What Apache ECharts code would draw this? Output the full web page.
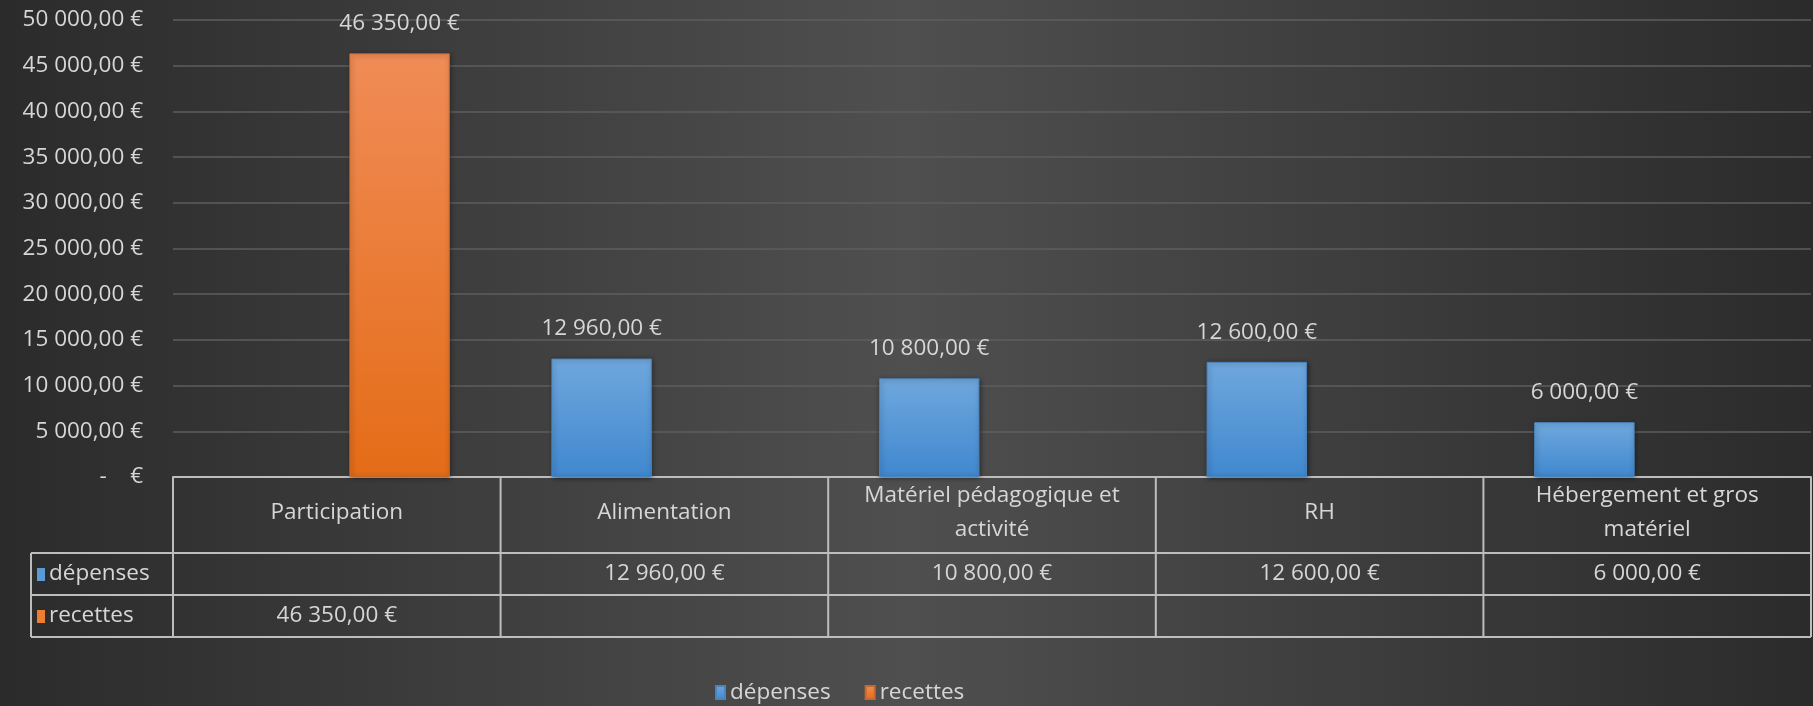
<!DOCTYPE html>
<html>
<head>
<meta charset="utf-8">
<script src="https://cdn.jsdelivr.net/npm/echarts@6/dist/echarts.min.js"></script>
<style>
html, body { margin: 0; padding: 0; background: #333; }
#chart { width: 1813px; height: 706px; }
</style>
</head>
<body>
<div id="chart"></div>
<script>
var categories = ['Participation', 'Alimentation', 'Matériel pédagogique et\nactivité', 'RH', 'Hébergement et gros\nmatériel'];
var depenses = [null, 12960, 10800, 12600, 6000];
var recettes = [46350, null, null, null, null];
var seriesNames = ['dépenses', 'recettes'];
var seriesColors = ['#5b9bd5', '#ed7d31'];

var FONT = '"Open Sans", Lato, sans-serif';
var FS = 22.5;
var TXT = '#d6d6d6';
var LINE = '#bdbdbd';

function euro(v) {
  if (v === null || v === undefined) return '';
  if (v === 0) return '-    €';
  var p = v.toFixed(2).split('.');
  return p[0].replace(/\B(?=(\d{3})+(?!\d))/g, ' ') + ',' + p[1] + ' €';
}

function grad(top, bottom) {
  return new echarts.graphic.LinearGradient(0, 0, 0, 1, [
    { offset: 0, color: top },
    { offset: 1, color: bottom }
  ]);
}

var chartDom = document.getElementById('chart');
var myChart = echarts.init(chartDom);
var option;

var barStyle = {
  shadowBlur: 5,
  shadowColor: 'rgba(0,0,0,0.45)',
  shadowOffsetX: 1,
  shadowOffsetY: 1
};

option = {
  animation: false,
  backgroundColor: new echarts.graphic.LinearGradient(0, 0, 1, 0, [
    { offset: 0, color: '#2b2b2b' },
    { offset: 0.5, color: '#4f4f4f' },
    { offset: 1, color: '#2b2b2b' }
  ]),
  textStyle: { fontFamily: FONT },
  grid: { left: 173, right: 2, top: 20, bottom: 229 },
  legend: {
    data: seriesNames,
    left: 710,
    top: 676,
    icon: 'rect',
    itemWidth: 9,
    itemHeight: 13,
    itemGap: 34,
    textStyle: { color: TXT, fontSize: FS, fontFamily: FONT }
  },
  xAxis: {
    type: 'category',
    data: categories,
    axisLine: { show: true, lineStyle: { color: LINE, width: 2 } },
    axisTick: { show: false },
    axisLabel: { show: false }
  },
  yAxis: {
    type: 'value',
    min: 0,
    max: 50000,
    interval: 5000,
    axisLine: { show: false },
    axisTick: { show: false },
    splitLine: { lineStyle: { color: '#5e5e5e', width: 1.5 } },
    axisLabel: {
      color: TXT,
      fontSize: FS,
      fontFamily: FONT,
      margin: 30,
      formatter: function (v) { return euro(v); }
    }
  },
  series: [
    {
      name: seriesNames[0],
      type: 'bar',
      data: depenses,
      barGap: '25%',
      barCategoryGap: '31%',
      itemStyle: Object.assign({ color: grad('#6fa7dd', '#4088cf'), borderColor: '#4a84bd', borderWidth: 1 }, barStyle),
      label: {
        show: true,
        position: 'top',
        distance: 18,
        color: TXT,
        fontSize: FS,
        fontFamily: FONT,
        formatter: function (p) { return euro(p.value); }
      }
    },
    {
      name: seriesNames[1],
      type: 'bar',
      data: recettes,
      barGap: '25%',
      barCategoryGap: '31%',
      itemStyle: Object.assign({ color: grad('#f08c57', '#e46c17'), borderColor: '#c8682e', borderWidth: 1 }, barStyle),
      label: {
        show: true,
        position: 'top',
        distance: 18,
        color: TXT,
        fontSize: FS,
        fontFamily: FONT,
        formatter: function (p) { return euro(p.value); }
      }
    }
  ]
};

option && myChart.setOption(option);

// data table under the axis
var x0 = myChart.convertToPixel({ xAxisIndex: 0 }, 0);
var x1 = myChart.convertToPixel({ xAxisIndex: 0 }, 1);
var band = x1 - x0;
var yTop = myChart.convertToPixel({ yAxisIndex: 0 }, 0);
var headH = 76, rowH = 42;
var labelLeft = 31;
var tableLeft = x0 - band / 2;
var tableRight = tableLeft + band * categories.length;
var elements = [];

function hline(xa, xb, y) {
  elements.push({ type: 'line', shape: { x1: xa, y1: y, x2: xb, y2: y }, style: { stroke: LINE, lineWidth: 2 } });
}
function vline(x, ya, yb) {
  elements.push({ type: 'line', shape: { x1: x, y1: ya, x2: x, y2: yb }, style: { stroke: LINE, lineWidth: 2 } });
}
function text(str, x, y, align) {
  elements.push({
    type: 'text', x: x, y: y,
    style: { text: str, fill: TXT, font: FS + 'px ' + FONT, align: align || 'center', verticalAlign: 'middle', lineHeight: 34 }
  });
}

var yHead = yTop + headH;
var yRow1 = yHead + rowH;
var yRow2 = yRow1 + rowH;
hline(tableLeft, tableRight, yTop);
hline(labelLeft, tableRight, yHead);
hline(labelLeft, tableRight, yRow1);
hline(labelLeft, tableRight, yRow2);
vline(labelLeft, yHead, yRow2);
for (var i = 0; i <= categories.length; i++) {
  vline(tableLeft + band * i, yTop, yRow2);
}
var rows = [depenses, recettes];
for (var c = 0; c < categories.length; c++) {
  var cx = tableLeft + band * (c + 0.5);
  text(categories[c], cx, yTop + headH / 2 - 2);
  for (var r = 0; r < rows.length; r++) {
    if (rows[r][c] !== null) text(euro(rows[r][c]), cx, yHead + rowH * (r + 0.5));
  }
}
for (var r = 0; r < rows.length; r++) {
  var cy = yHead + rowH * (r + 0.5);
  elements.push({ type: 'rect', shape: { x: 37, y: cy - 6, width: 8, height: 13 }, style: { fill: seriesColors[r] } });
  text(seriesNames[r], 49, cy, 'left');
}

myChart.setOption({ graphic: { elements: elements } });
console.log('budget chart');
</script>
</body>
</html>
